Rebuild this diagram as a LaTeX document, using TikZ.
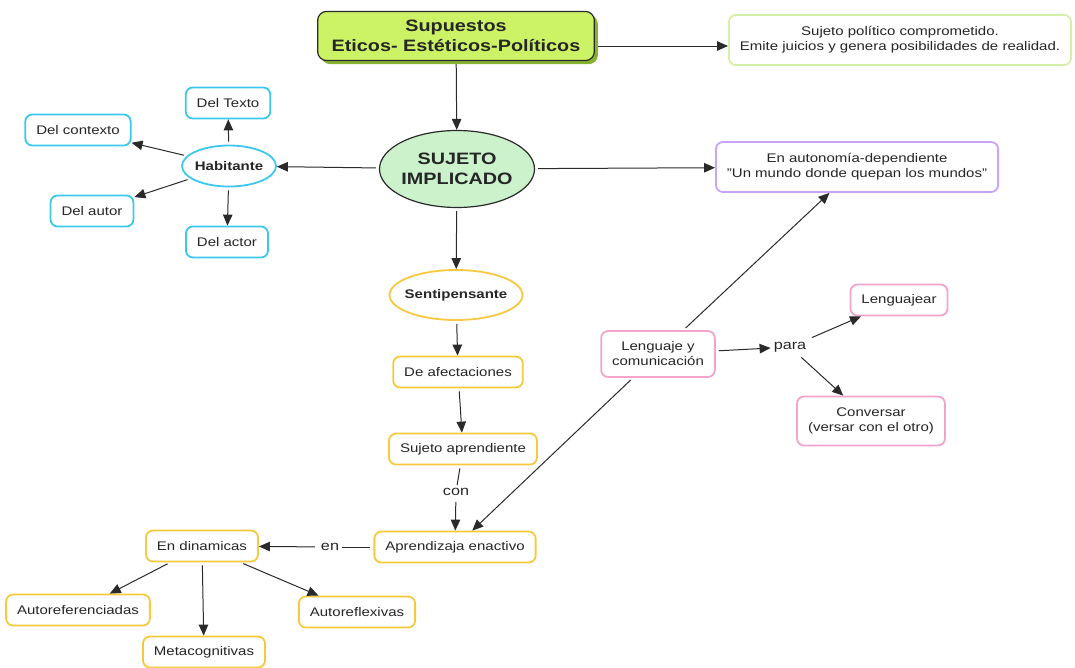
\documentclass[tikz,border=0pt]{standalone}
\usepackage{fontspec}
\setmainfont{Liberation Sans}[FakeStretch=1.2]
\usetikzlibrary{shapes.geometric, arrows.meta, shadows}
\definecolor{limefill}{HTML}{CCF266}
\definecolor{limeshade}{HTML}{86B232}
\definecolor{mintfill}{HTML}{CCF2CC}
\definecolor{paleline}{HTML}{D4F0A8}
\definecolor{cyanline}{HTML}{3CC8EE}
\definecolor{lilacline}{HTML}{C9A2FA}
\definecolor{goldline}{HTML}{F7C93E}
\definecolor{pinkline}{HTML}{F4A3CC}
\definecolor{linkgray}{HTML}{2A2A2A}
\begin{document}
\begin{tikzpicture}[x=1pt,y=-1pt,
  every node/.style={font=\fontsize{12.5}{15}\selectfont,text=black!85,align=center},
  box/.style={draw,rounded corners=7pt,line width=1.8pt,fill=white,inner xsep=11pt,inner ysep=7pt,minimum height=31pt},
  oval/.style={draw,ellipse,line width=1.8pt,inner xsep=-6pt,inner ysep=0pt,font=\fontsize{12.5}{15}\selectfont\bfseries},
  big/.style={draw=linkgray,line width=1.2pt,font=\fontsize{16.5}{19.5}\selectfont\bfseries},
  lbl/.style={inner sep=3pt,font=\fontsize{13.5}{16}\selectfont},
  link/.style={draw=linkgray,line width=1pt,-{Triangle[length=11pt,width=9.5pt]},shorten <=3pt},
  plain/.style={draw=linkgray,line width=1pt,shorten <=3pt}]
  \useasboundingbox (0,0) rectangle (1075,667);
  \path (456,36) node[box,big,fill=limefill,inner xsep=14pt,inner ysep=9pt,rounded corners=9pt,drop shadow={shadow xshift=3.5pt,shadow yshift=-3.5pt,fill=limeshade,opacity=1}] (sup) {Supuestos\\Eticos- Estéticos-Políticos}
  (900,40) node[box,draw=paleline,minimum height=50pt] (pol) {Sujeto político comprometido.\\Emite juicios y genera posibilidades de realidad.}
  (457,169) node[oval,big,fill=mintfill,minimum width=155pt,minimum height=77pt] (suj) {SUJETO\\IMPLICADO}
  (857,167) node[box,draw=lilacline,minimum height=50pt] (aut) {En autonomía-dependiente\\"Un mundo donde quepan los mundos"};
  \path (229,166) node[oval,draw=cyanline,minimum width=94pt,minimum height=41pt] (hab) {Habitante}
  (228,103) node[box,draw=cyanline] (dtx) {Del Texto}
  (78,130) node[box,draw=cyanline] (dcx) {Del contexto}
  (92,211) node[box,draw=cyanline] (dau) {Del autor}
  (227,242) node[box,draw=cyanline] (dac) {Del actor};
  \path (456,295) node[oval,draw=goldline,minimum width=133pt,minimum height=50pt] (sen) {Sentipensante}
  (458,372) node[box,draw=goldline] (daf) {De afectaciones}
  (463,449) node[box,draw=goldline] (sap) {Sujeto aprendiente}
  (456,492) node[lbl] (con) {con}
  (455,547) node[box,draw=goldline] (aen) {Aprendizaja enactivo}
  (330,547) node[lbl] (en) {en}
  (202,546) node[box,draw=goldline] (din) {En dinamicas}
  (78,610) node[box,draw=goldline] (aref) {Autoreferenciadas}
  (204,652) node[box,draw=goldline] (meta) {Metacognitivas}
  (357,612) node[box,draw=goldline] (arfx) {Autoreflexivas};
  \path (658,354) node[box,draw=pinkline,minimum height=46pt] (leng) {Lenguaje y\\comunicación}
  (790,347) node[lbl] (para) {para}
  (899,300) node[box,draw=pinkline] (lgj) {Lenguajear}
  (871,421) node[box,draw=pinkline,minimum height=49pt] (conv) {Conversar\\(versar con el otro)};
  \draw[link] ([yshift=-10pt]sup.east) -- ([yshift=-6pt]pol.west);
  \draw[link] (sup) -- (suj);
  \draw[link] (suj) -- (hab);
  \draw[link] (suj) -- (aut);
  \draw[link] (suj) -- (sen);
  \draw[link] (hab) -- (dtx);
  \draw[link] (hab) -- (dcx);
  \draw[link] (hab) -- (dau);
  \draw[link] (hab) -- (dac);
  \draw[link] (sen) -- (daf);
  \draw[link] (daf) -- (sap);
  \draw[plain] (sap) -- (con);
  \draw[link] (con) -- (aen);
  \draw[plain] (aen) -- (en);
  \draw[link] (en) -- (din);
  \draw[link] (din) -- (aref);
  \draw[link] (din) -- (meta);
  \draw[link] (din) -- (arfx);
  \draw[link] (leng) -- (aut);
  \draw[link] (leng) -- (aen);
  \draw[link] (leng) -- (para);
  \draw[link] (para) -- (lgj);
  \draw[link] (para) -- (conv);
\end{tikzpicture}
\end{document}
